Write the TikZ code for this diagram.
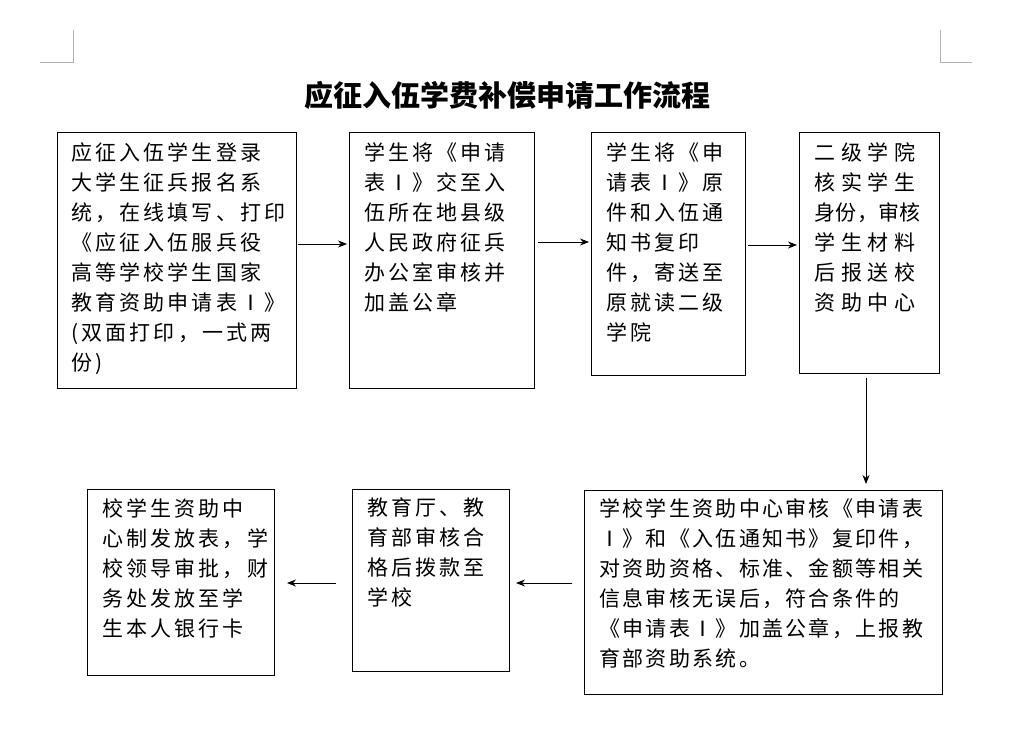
\documentclass[tikz,border=0pt]{standalone}
\usepackage{fontspec}
\newfontfamily\cjk[LetterSpace=15]{Noto Sans CJK SC}
\newfontfamily\cjknarrow[LetterSpace=11]{Noto Sans CJK SC}
\newfontfamily\cjkwide[LetterSpace=28]{Noto Sans CJK SC}
\newfontfamily\cjktight[LetterSpace=2]{Noto Sans CJK SC}
\newfontfamily\cjktitle{Noto Sans CJK SC}
\usetikzlibrary{arrows.meta}
\tikzset{
  flowbox/.style={draw,line width=0.8pt},
  flowtext/.style={anchor=north west,align=left,inner sep=0pt,font=\cjk\fontsize{21}{30}\selectfont},
  flowarrow/.style={-{Stealth[length=9pt,width=7pt]},line width=0.8pt}
}
\begin{document}
\begin{tikzpicture}[x=1pt,y=-1pt]
\useasboundingbox (0,0) rectangle (1015,752);
% corner marks
\draw[gray!60] (73,30) -- (73,62) -- (40,62);
\draw[gray!60] (940,30) -- (940,62) -- (972,62);
\node (title) at (507,95) {\cjktitle\bfseries\fontsize{29}{32}\selectfont 应征入伍学费补偿申请工作流程};
% boxes
\draw[flowbox] (57,132) rectangle (296,388);
\draw[flowbox] (349,132) rectangle (534,388);
\draw[flowbox] (591,132) rectangle (745,375);
\draw[flowbox] (799,132) rectangle (939,373);
\draw[flowbox] (584,490) rectangle (942,694);
\draw[flowbox] (352,489) rectangle (509,671);
\draw[flowbox] (87,489) rectangle (274,675);
% texts
\node[flowtext] (t1) at (71,142) {应征入伍学生登录\\大学生征兵报名系\\统，在线填写、打印\\《应征入伍服兵役\\高等学校学生国家\\教育资助申请表Ⅰ》\\(双面打印，一式两\\份)};
\node[flowtext] (t2) at (364,142) {学生将《申请\\表Ⅰ》交至入\\伍所在地县级\\人民政府征兵\\办公室审核并\\加盖公章};
\node[flowtext] (t3) at (606,142) {学生将《申\\请表Ⅰ》原\\件和入伍通\\知书复印\\件，寄送至\\原就读二级\\学院};
\node[flowtext,font=\cjkwide\fontsize{21}{30}\selectfont] (t4) at (814,142) {二级学院\\核实学生\\{\cjktight 身份，审核}\\学生材料\\后报送校\\资助中心};
\node[flowtext,font=\cjknarrow\fontsize{21}{30}\selectfont] (t5) at (599,498) {学校学生资助中心审核《申请表\\Ⅰ》和《入伍通知书》复印件，\\对资助资格、标准、金额等相关\\信息审核无误后，符合条件的\\《申请表Ⅰ》加盖公章，上报教\\育部资助系统。};
\node[flowtext] (t6) at (367,498) {教育厅、教\\育部审核合\\格后拨款至\\学校};
\node[flowtext] (t7) at (102,498) {校学生资助中\\心制发放表，学\\校领导审批，财\\务处发放至学\\生本人银行卡};
% arrows
\coordinate (a1) at (298,244); \coordinate (b1) at (347,244);
\coordinate (a2) at (538,242); \coordinate (b2) at (589,242);
\coordinate (a3) at (748,245); \coordinate (b3) at (797,245);
\coordinate (a4) at (866,378); \coordinate (b4) at (866,484);
\coordinate (a5) at (572,583); \coordinate (b5) at (516,583);
\coordinate (a6) at (336,583); \coordinate (b6) at (287,583);
\foreach \i in {1,...,6}
  \draw[flowarrow] (a\i) -- (b\i);
\end{tikzpicture}
\end{document}
